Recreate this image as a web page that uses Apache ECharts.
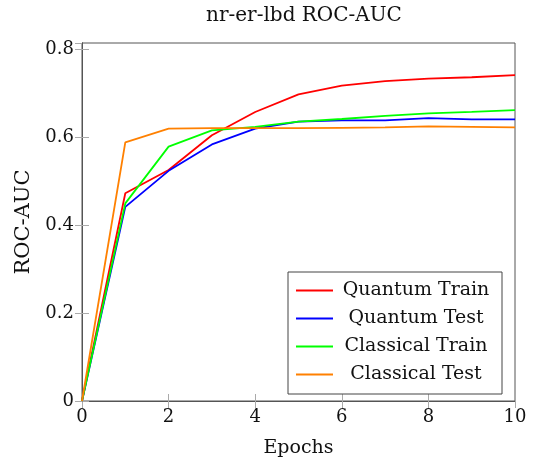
<!DOCTYPE html>
<html>
<head>
<meta charset="utf-8">
<script src="https://cdn.jsdelivr.net/npm/echarts@6/dist/echarts.min.js"></script>
<style>
  html, body { margin: 0; padding: 0; background: #fff; }
  #main { width: 537px; height: 468px; }
</style>
</head>
<body>
<div id="main"></div>
<script>
const epochs = [0, 1, 2, 3, 4, 5, 6, 7, 8, 9, 10];
const quantumTrain = [0, 0.473, 0.526, 0.605, 0.658, 0.698, 0.718, 0.728, 0.734, 0.737, 0.742];
const quantumTest = [0, 0.442, 0.524, 0.584, 0.620, 0.636, 0.639, 0.639, 0.644, 0.641, 0.641];
const classicalTrain = [0, 0.450, 0.579, 0.616, 0.624, 0.636, 0.642, 0.649, 0.655, 0.658, 0.662];
const classicalTest = [0, 0.589, 0.620, 0.621, 0.621, 0.621, 0.622, 0.623, 0.625, 0.624, 0.623];

const font = 'DejaVu Serif';
const frame = '#555';
const tick = '#aaa';

function pairs(ys) {
  return ys.map((y, i) => [epochs[i], y]);
}

function line(name, color, ys) {
  return {
    name: name,
    type: 'line',
    data: pairs(ys),
    symbol: 'none',
    lineStyle: { color: color, width: 1.8 },
    itemStyle: { color: color },
    animation: false
  };
}

const myChart = echarts.init(document.getElementById('main'), null, { renderer: 'canvas' });
const option = {
  backgroundColor: '#fff',
  title: {
    text: 'nr-er-lbd ROC-AUC',
    left: 299,
    top: 1,
    textAlign: 'center',
    textStyle: { fontFamily: font, fontWeight: 'normal', fontSize: 20, color: '#111' }
  },
  grid: { left: 82, right: 22, top: 43, bottom: 67, show: true, borderColor: frame, borderWidth: 1 },
  legend: {
    orient: 'vertical',
    left: 288,
    top: 272,
    padding: [9, 8, 10, 8],
    itemGap: 9,
    itemWidth: 37,
    itemHeight: 2,
    icon: 'rect',
    borderColor: '#444',
    borderWidth: 1,
    backgroundColor: '#fff',
    formatter: '{c|{name}}',
    textStyle: {
      fontFamily: font, fontSize: 19, color: '#111', lineHeight: 18,
      rich: { c: { fontFamily: font, fontSize: 19, color: '#111', width: 156, align: 'center', lineHeight: 18 } }
    },
    data: ['Quantum Train', 'Quantum Test', 'Classical Train', 'Classical Test']
  },
  xAxis: [
    {
      type: 'value', min: 0, max: 10, interval: 2,
      name: 'Epochs', nameLocation: 'middle', nameGap: 38,
      nameTextStyle: { fontFamily: font, fontSize: 19, color: '#111' },
      axisLine: { show: true, lineStyle: { color: frame } },
      axisTick: { show: true, inside: true, length: 7, lineStyle: { color: tick } },
      axisLabel: { fontFamily: font, fontSize: 18, color: '#111', margin: 7 },
      splitLine: { show: false }
    },
    {
      type: 'value', min: 0, max: 10, interval: 2, position: 'top',
      axisLine: { show: true, lineStyle: { color: frame } },
      axisTick: { show: true, inside: true, length: 7, lineStyle: { color: tick } },
      axisLabel: { show: false },
      splitLine: { show: false }
    }
  ],
  yAxis: [
    {
      type: 'value', min: 0, max: 0.815, interval: 0.2,
      name: 'ROC-AUC', nameLocation: 'middle', nameGap: 47,
      nameTextStyle: { fontFamily: font, fontSize: 21, color: '#111' },
      axisLine: { show: true, lineStyle: { color: frame } },
      axisTick: { show: true, inside: true, length: 7, lineStyle: { color: tick } },
      axisLabel: { fontFamily: font, fontSize: 18, color: '#111', margin: 8, showMaxLabel: false },
      splitLine: { show: false }
    },
    {
      type: 'value', min: 0, max: 0.815, interval: 0.2, position: 'right',
      axisLine: { show: true, lineStyle: { color: frame } },
      axisTick: { show: true, inside: true, length: 7, lineStyle: { color: tick } },
      axisLabel: { show: false },
      splitLine: { show: false }
    }
  ],
  series: [
    line('Quantum Train', '#ff0000', quantumTrain),
    line('Quantum Test', '#0000ff', quantumTest),
    line('Classical Train', '#00ff00', classicalTrain),
    line('Classical Test', '#ff8000', classicalTest)
  ]
};
myChart.setOption(option);
</script>
</body>
</html>
